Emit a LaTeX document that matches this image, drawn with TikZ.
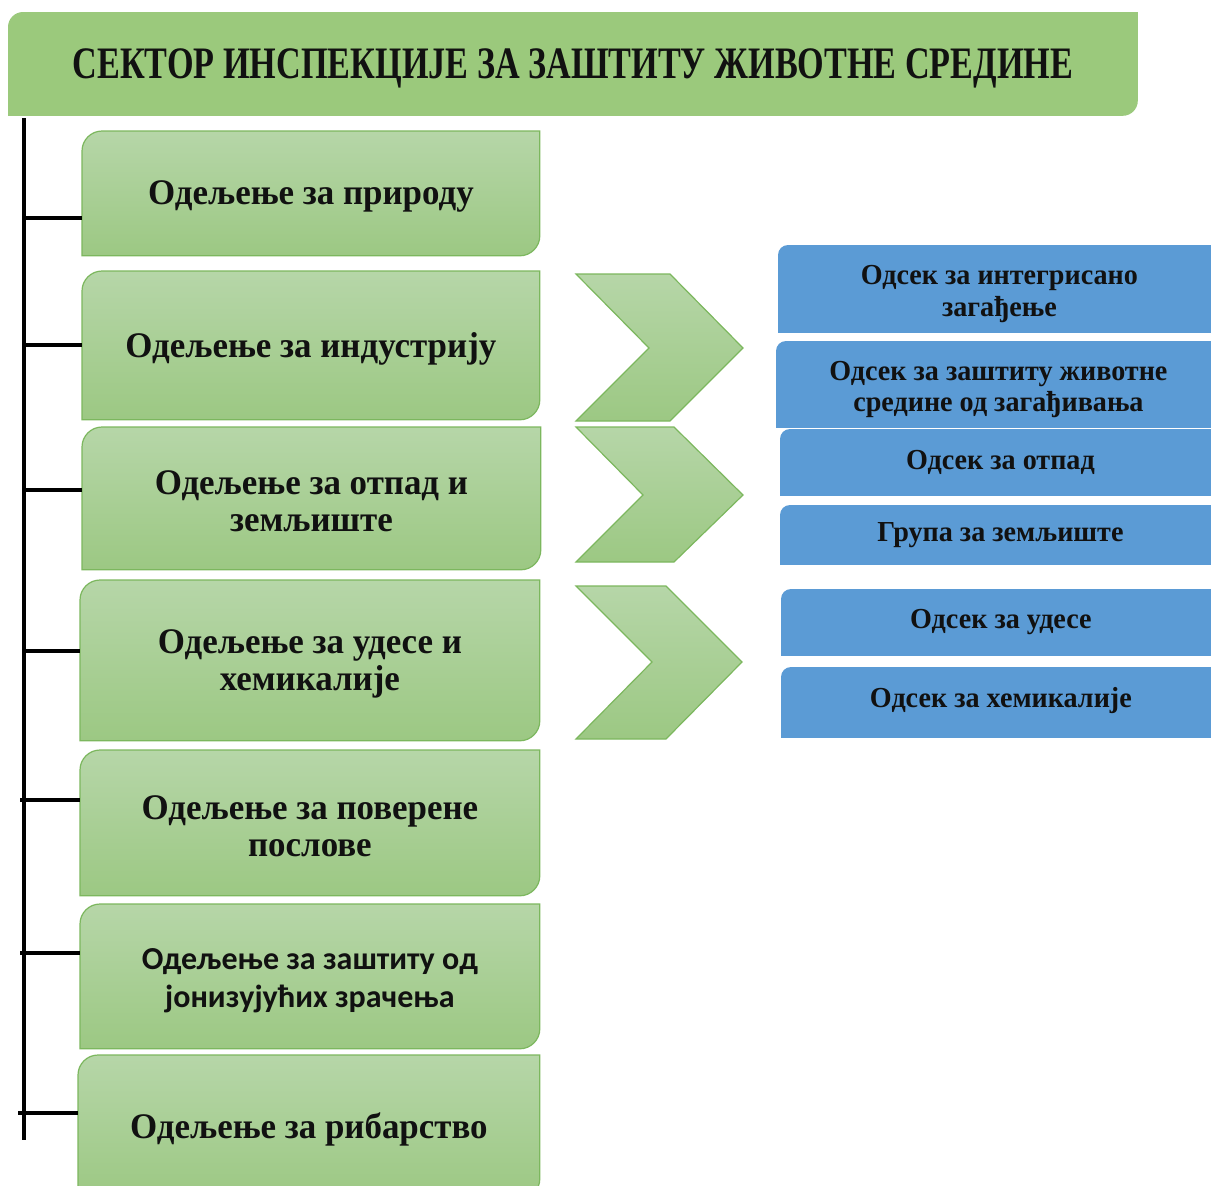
\documentclass[tikz,border=0pt]{standalone}
\usepackage{fontspec}
\setmainfont{Liberation Serif}
\newfontfamily\titlefont[FakeStretch=0.76]{Liberation Serif}
\newfontfamily\boxfont[FakeStretch=0.97]{Liberation Serif}
\newfontfamily\sansbox{Carlito}
\usetikzlibrary{backgrounds}
\definecolor{titlec}{HTML}{9BC97C}
\definecolor{gtop}{HTML}{B6D6A8}
\definecolor{gbot}{HTML}{9CC883}
\definecolor{gline}{HTML}{7CB75E}
\definecolor{bluec}{HTML}{5B9BD5}
\definecolor{textc}{HTML}{111111}
% round-diagonal-corner shape round node #1, radius #2, style #3
\newcommand\diagshape[3]{\path[#3] (#1.south west) -- ([yshift=-#2]#1.north west)
  .. controls ([yshift=-0.45*#2]#1.north west) and ([xshift=0.45*#2]#1.north west) .. ([xshift=#2]#1.north west)
  -- (#1.north east) -- ([yshift=#2]#1.south east)
  .. controls ([yshift=0.45*#2]#1.south east) and ([xshift=-0.45*#2]#1.south east) .. ([xshift=-#2]#1.south east)
  -- cycle;}
% one rounded corner (top left)
\newcommand\tlshape[3]{\path[#3] (#1.south west) -- ([yshift=-#2]#1.north west)
  .. controls ([yshift=-0.45*#2]#1.north west) and ([xshift=0.45*#2]#1.north west) .. ([xshift=#2]#1.north west)
  -- (#1.north east) -- (#1.south east) -- cycle;}
\begin{document}
\begin{tikzpicture}[x=0.5pt,y=-0.5pt,
  box/.style n args={4}{at={(#1,#2)}, anchor=north west, inner sep=0pt,
    minimum width={(#3-#1)*0.5pt}, minimum height={(#4-#2)*0.5pt}},
  gbox/.style={align=center, text=textc, inner sep=0pt, yshift=-1.5pt, font=\boxfont\bfseries\fontsize{18}{18.5}\selectfont},
  gsbox/.style={align=center, text=textc, inner sep=0pt, yshift=-2pt, font=\sansbox\bfseries\fontsize{16}{19}\selectfont},
  bbox/.style={align=center, text=textc, inner sep=0pt, font=\boxfont\bfseries\fontsize{14.5}{15.8}\selectfont},
  titlebox/.style={align=center, text=textc, inner sep=0pt, yshift=-2pt, font=\titlefont\bfseries\fontsize{22.5}{24}\selectfont},
  gshape/.style={top color=gtop, bottom color=gbot, draw=gline, line width=0.6pt},
  bshape/.style={fill=bluec},
  tshape/.style={fill=titlec},
  spine/.style={line width=2.2pt, black},
  tickline/.style={line width=2pt, black},
]
\clip (0,0) rectangle (1211,1185);

% title
\node[box={8}{12}{1137}{115}] (title) {};
\node[titlebox] (titletext) at (title) {СЕКТОР ИНСПЕКЦИЈЕ ЗА ЗАШТИТУ ЖИВОТНЕ СРЕДИНЕ};

% departments
\node[box={82}{131}{539}{255}] (b1) {};
\node[box={82}{271}{539}{419}] (b2) {};
\node[box={82}{427}{540}{569}] (b3) {};
\node[box={80}{580}{539}{740}] (b4) {};
\node[box={80}{750}{539}{895}] (b5) {};
\node[box={80}{904}{539}{1048}] (b6) {};
\node[box={78}{1055}{539}{1198}] (b7) {};
\node[gbox] (b1t) at (b1) {Одељење за природу};
\node[gbox] (b2t) at (b2) {Одељење за индустрију};
\node[gbox] (b3t) at (b3) {Одељење за отпад и\\земљиште};
\node[gbox] (b4t) at (b4) {Одељење за удесе и\\хемикалије};
\node[gbox] (b5t) at (b5) {Одељење за поверене\\послове};
\node[gsbox] (b6t) at (b6) {Одељење за заштиту од\\јонизујућих зрачења};
\node[gbox] (b7t) at (b7) {Одељење за рибарство};

% sections
\node[box={778}{245}{1220}{332}] (s1) {};
\node[box={776}{341}{1220}{427}] (s2) {};
\node[box={780}{429}{1220}{495}] (s3) {};
\node[box={780}{505}{1220}{564}] (s4) {};
\node[box={781}{589}{1220}{655}] (s5) {};
\node[box={781}{667}{1220}{737}] (s6) {};
\node[bbox, yshift=-2.5pt] (s1t) at (s1) {Одсек за интегрисано\\загађење};
\node[bbox, yshift=-2.5pt] (s2t) at (s2) {Одсек за заштиту животне\\средине од загађивања};
\node[bbox] (s3t) at (s3) {Одсек за отпад};
\node[bbox] (s4t) at (s4) {Група за земљиште};
\node[bbox] (s5t) at (s5) {Одсек за удесе};
\node[bbox, yshift=1pt] (s6t) at (s6) {Одсек за хемикалије};

\begin{scope}[on background layer]
  \diagshape{title}{7.5pt}{tshape}
  \foreach \n in {b1,b2,b3,b4,b5,b6,b7} {\diagshape{\n}{10pt}{gshape}}
  \foreach \n in {s1,s2,s3,s4,s5,s6} {\tlshape{\n}{5pt}{bshape}}
\end{scope}

% chevrons
\path[gshape] (576,274) -- (670,274) -- (743,348) -- (670,421) -- (576,421) -- (649,348) -- cycle;
\path[gshape] (576,427) -- (674,427) -- (743,495) -- (674,562) -- (576,562) -- (643,495) -- cycle;
\path[gshape] (576,586) -- (666,586) -- (742,662) -- (666,739) -- (576,739) -- (652,662) -- cycle;

% spine and ticks
\coordinate (sptop) at (24,118);
\coordinate (spbot) at (24,1140);
\draw[spine] (sptop) -- (spbot);
\coordinate (t1) at (24,218);
\coordinate (t2) at (24,345);
\coordinate (t3) at (24,490);
\coordinate (t4) at (24,651);
\coordinate (t5) at (20,800);
\coordinate (t6) at (20,953);
\coordinate (t7) at (18,1113);
\draw[tickline] (t1) -- (t1 -| b1.west);
\draw[tickline] (t2) -- (t2 -| b2.west);
\draw[tickline] (t3) -- (t3 -| b3.west);
\draw[tickline] (t4) -- (t4 -| b4.west);
\draw[tickline] (t5) -- (t5 -| b5.west);
\draw[tickline] (t6) -- (t6 -| b6.west);
\draw[tickline] (t7) -- (t7 -| b7.west);
\end{tikzpicture}
\end{document}
